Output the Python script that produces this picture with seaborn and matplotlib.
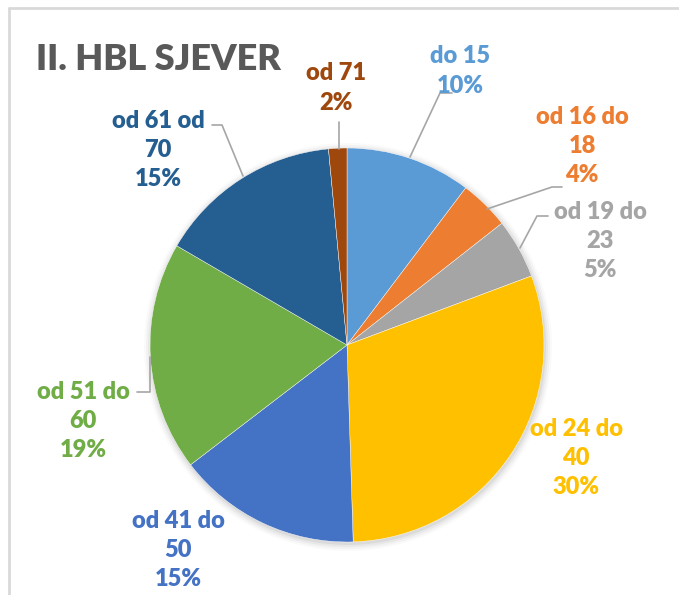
import matplotlib.pyplot as plt
import seaborn as sns

# data (percent shares, clockwise from 12 o'clock)
categories = ["do 15", "od 16 do\n18", "od 19 do\n23", "od 24 do\n40",
              "od 41 do\n50", "od 51 do\n60", "od 61 od\n70", "od 71"]
shares = [10.3, 4.1, 4.9, 30.2, 15.1, 18.8, 15.1, 1.5]
colors = ["#5B9BD5", "#ED7D31", "#A5A5A5", "#FFC000",
          "#4472C4", "#70AD47", "#255E91", "#9E480E"]

sns.set_theme(style="white")
plt.rcParams['font.family'] = ['Lato', 'DejaVu Sans']

W, H = 679, 595
fig = plt.figure(figsize=(W / 100, H / 100), dpi=100)
ax = fig.add_axes([0, 0, 1, 1])

def py(y):
    # pixel row -> data y
    return H - y

cx, cy, r = 347, py(345), 197

# soft shadow behind the pie
for i, a in enumerate([0.05, 0.04, 0.03, 0.02]):
    ax.add_patch(plt.Circle((cx + 1, cy - 2), r + 1 + 2 * i, color='black',
                            alpha=a, lw=0, zorder=0))

ax.pie(shares, colors=colors, startangle=90, counterclock=False,
       center=(cx, cy), radius=r, frame=True,
       wedgeprops=dict(linewidth=0.3, edgecolor='white'))
ax.set_xlim(0, W)
ax.set_ylim(0, H)
ax.set_aspect('equal')
ax.axis('off')

# label positions (pixel centres of the text blocks) and leader lines
label_pos = [(460, 71), (582, 146), (600, 241), (576, 458),
             (178, 550), (83, 421), (158, 150), (336, 88)]
leaders = [
    [(410, 157), (440, 93), (452, 93)],
    [(487, 209), (552, 187), (562, 187)],
    [(520, 248), (537, 216), (548, 216)],
    None,
    None,
    [(150, 357), (150, 392), (137, 392)],
    [(243, 176), (222, 125), (212, 125)],
    [(339, 149), (339, 122)],
]

for name, val, col, (lx, ly), ld in zip(categories, shares, colors, label_pos, leaders):
    txt = f"{name}\n{round(val):.0f}%"
    ax.text(lx, py(ly), txt, color=col, fontsize=17, fontweight='heavy',
            ha='center', va='center', linespacing=1.4, zorder=5)
    if ld:
        ax.plot([p[0] for p in ld], [py(p[1]) for p in ld],
                color='#A6A6A6', lw=1.2, zorder=4)

ax.text(36, py(60), "II. HBL SJEVER", color='#595959', fontsize=26,
        fontweight='heavy', ha='left', va='center')

# chart frame (top and left edges visible)
ax.plot([9, W], [py(8), py(8)], color='#D9D9D9', lw=2, clip_on=False)
ax.plot([9, 9], [py(8), 0], color='#D9D9D9', lw=2, clip_on=False)

fig.savefig('out.png', dpi=100, facecolor='white')
